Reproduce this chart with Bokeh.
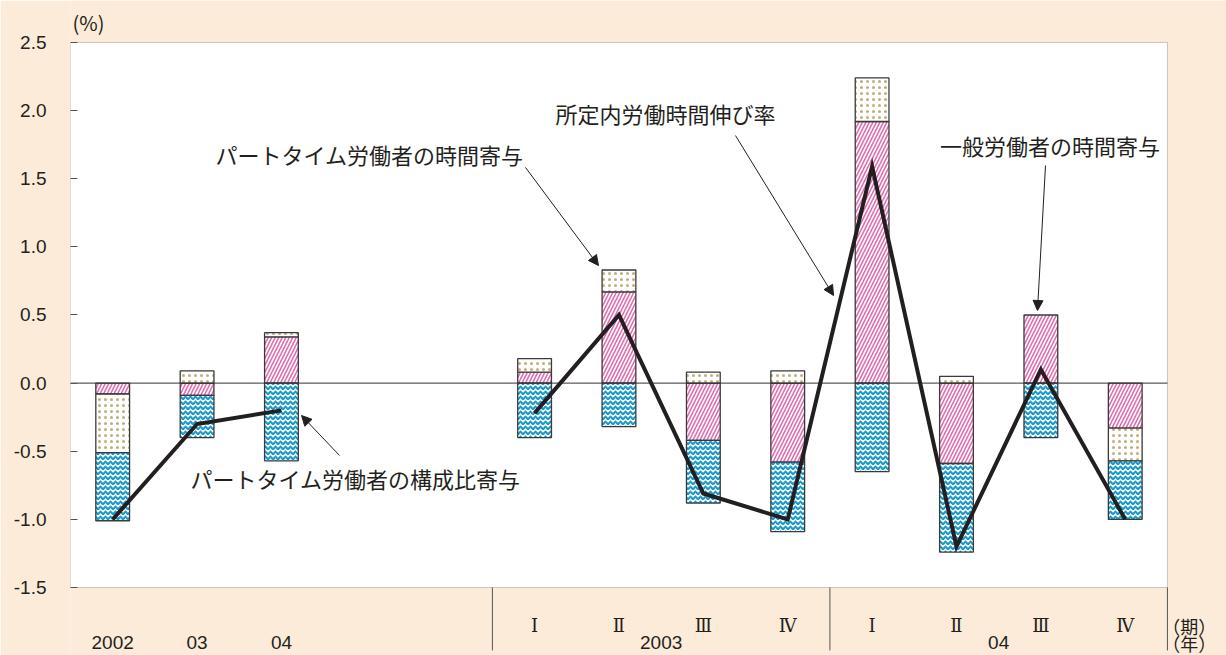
import math

from bokeh.embed import file_html
from bokeh.models import (Arrow, BoxAnnotation, FixedTicker, Label, NormalHead, Range1d)
from bokeh.plotting import figure
from bokeh.resources import INLINE

# Periods: three annual values, a gap, then eight quarters (2003 I - 2004 IV)
periods = ["2002", "03", "04", "", "", "2003 I", "2003 II", "2003 III", "2003 IV",
           "2004 I", "2004 II", "2004 III", "2004 IV"]
nan = float("nan")

# Contribution of general workers' hours (%pt)
general_hours = [-0.08, -0.09, 0.34, nan, nan, 0.08, 0.67, -0.42, -0.58, 1.92, -0.59, 0.50, -0.33]
# Contribution of part-time workers' hours (%pt)
parttime_hours = [-0.43, 0.09, 0.03, nan, nan, 0.10, 0.16, 0.08, 0.09, 0.32, 0.05, 0.00, -0.24]
# Contribution of part-time worker share (%pt)
parttime_share = [-0.50, -0.31, -0.57, nan, nan, -0.40, -0.32, -0.46, -0.51, -0.65, -0.65, -0.40, -0.43]
# Growth rate of scheduled working hours (%)
scheduled_hours = [-1.0, -0.30, -0.20, nan, nan, -0.22, 0.50, -0.81, -1.0, 1.59, -1.20, 0.10, -1.0]

y_ticks = [-1.5, -1.0, -0.5, 0.0, 0.5, 1.0, 1.5, 2.0, 2.5]
quarter_labels = ["Ⅰ", "Ⅱ", "Ⅲ", "Ⅳ", "Ⅰ", "Ⅱ", "Ⅲ", "Ⅳ"]
quarter_slots = [5, 6, 7, 8, 9, 10, 11, 12]
year_labels = ["2002", "03", "04", "2003", "04"]
year_slots = [0, 1, 2, 6.5, 10.5]
group_edges = [4.5, 8.5, 12.5]

BG = "#FCEBD9"
INK = "#231F20"
EDGE = "#555555"
JP = "Noto Sans CJK JP"

# value area of the chart
X0, X1 = -0.5, 12.5
Y0, Y1 = -1.5, 2.5

# the frame also covers the margins that hold the category rows and unit labels
p = figure(width=1226, height=655, output_backend="svg", toolbar_location=None,
           x_range=Range1d(X0, 13.2), y_range=Range1d(-1.999, 2.808),
           x_axis_location=None,
           min_border_left=70, min_border_right=0, min_border_top=0, min_border_bottom=0)
p.background_fill_color = BG
p.border_fill_color = BG
p.outline_line_color = None
p.xgrid.visible = False
p.ygrid.visible = False

p.add_layout(BoxAnnotation(left=X0, right=X1, bottom=Y0, top=Y1, fill_color="white",
                           fill_alpha=1, line_color=EDGE, line_width=1, level="underlay"))

# y axis
p.yaxis.ticker = FixedTicker(ticks=y_ticks)
p.yaxis.major_label_overrides = {t: f"{t:.1f}" for t in y_ticks}
p.yaxis.major_tick_in = 7
p.yaxis.major_tick_out = 0
p.yaxis.minor_tick_line_color = None
p.yaxis.axis_line_color = None
p.yaxis.major_tick_line_color = EDGE
p.yaxis.major_label_standoff = 24
p.yaxis.major_label_text_font = "Liberation Sans"
p.yaxis.major_label_text_font_size = "19px"
p.yaxis.major_label_text_color = INK

# stacked bars: positive and negative parts stacked separately
series = [
    (general_hours, dict(hatch_pattern="right_diagonal_line", hatch_color="#E26BB0",
                         hatch_scale=7, hatch_weight=1.6)),
    (parttime_hours, dict(hatch_pattern="dot", hatch_color="#C4AE78",
                          hatch_scale=6, hatch_weight=5)),
    (parttime_share, dict(hatch_pattern="horizontal_wave", hatch_color="#1A9BCB",
                          hatch_scale=5, hatch_weight=2.2)),
]
xs = list(range(len(periods)))
pos = [0.0] * len(periods)
neg = [0.0] * len(periods)
for values, style in series:
    bx, bb, bt = [], [], []
    for i, v in enumerate(values):
        if math.isnan(v) or v == 0:
            continue
        if v > 0:
            bx.append(i); bb.append(pos[i]); bt.append(pos[i] + v); pos[i] += v
        else:
            bx.append(i); bb.append(neg[i]); bt.append(neg[i] + v); neg[i] += v
    p.vbar(x=bx, bottom=bb, top=bt, width=0.4, fill_color="white",
           line_color="#3A3A3A", line_width=1.3, **style)

# zero line across the value area
p.segment(x0=[X0], x1=[X1], y0=[0], y1=[0], line_color="#333333", line_width=1)

# growth-rate line (breaks at the gap)
p.line(x=xs, y=scheduled_hours, line_color=INK, line_width=4, line_join="miter")

# annotations with arrows
notes = [
    ("パートタイム労働者の時間寄与", 3.044, 1.685, (4.892, 1.583, 5.757, 0.863)),
    ("所定内労働時間伸び率", 6.551, 1.979, (7.381, 1.817, 8.543, 0.643)),
    ("一般労働者の時間寄与", 11.108, 1.744, (11.055, 1.597, 10.960, 0.533)),
    ("パートタイム労働者の構成比寄与", 2.878, -0.693, (2.688, -0.531, 2.238, -0.238)),
]
for text, tx, ty, (x0, y0, x1, y1) in notes:
    p.add_layout(Label(x=tx, y=ty, text=text, text_align="center", text_baseline="middle",
                       text_font=JP, text_font_size="22px", text_color=INK))
    p.add_layout(Arrow(x_start=x0, y_start=y0, x_end=x1, y_end=y1, line_color=INK, line_width=1,
                       end=NormalHead(size=10, fill_color=INK, line_color=INK)))

# separators between the year groups below the value area
p.segment(x0=group_edges, x1=group_edges, y0=[Y0] * 3, y1=[-1.962] * 3,
          line_color=EDGE, line_width=1)

# category rows
ROW_Q, ROW_Y = -1.779, -1.905
for lab, s in zip(quarter_labels, quarter_slots):
    p.add_layout(Label(x=s, y=ROW_Q, text=lab, text_align="center", text_baseline="middle",
                       text_font="DejaVu Serif", text_font_size="18px", text_color=INK))
for lab, s in zip(year_labels, year_slots):
    p.add_layout(Label(x=s, y=ROW_Y, text=lab, text_align="center", text_baseline="middle",
                       text_font="Liberation Sans", text_font_size="19px", text_color=INK))
p.add_layout(Label(x=12.44, y=ROW_Q, text="（期）", text_align="left", text_baseline="middle",
                   text_font=JP, text_font_size="18px", text_color=INK))
p.add_layout(Label(x=12.44, y=ROW_Y, text="（年）", text_align="left", text_baseline="middle",
                   text_font=JP, text_font_size="18px", text_color=INK))
p.add_layout(Label(x=-0.476, y=2.647, text="(%)", text_align="left", text_baseline="middle",
                   text_font=JP, text_font_size="20px", text_color=INK))

open("out.html", "w").write(file_html(p, INLINE))
